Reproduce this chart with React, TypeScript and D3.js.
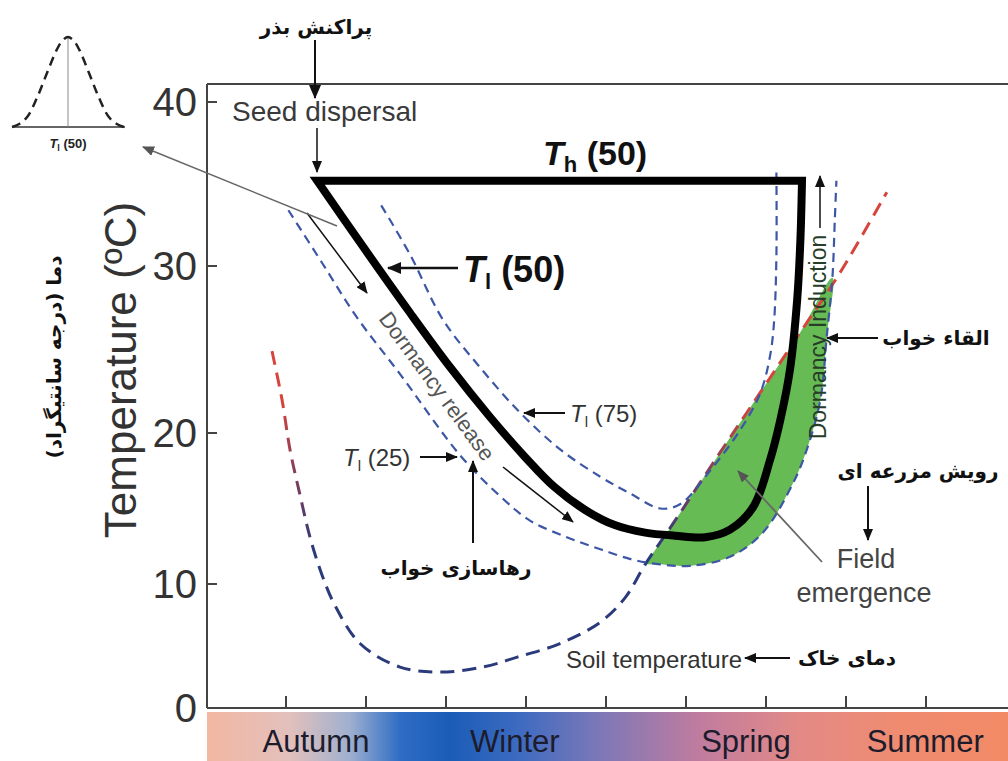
import React from 'react';
import * as d3 from 'd3';

const width = 1008;
const height = 761;

// axis ticks
const yTicks = [0, 10, 20, 30, 40];
const xTicks = [1, 2, 3, 4, 5, 6, 7, 8, 9];

// seasons along the time axis (in tick units)
const seasons = ['Autumn', 'Winter', 'Spring', 'Summer'];
const seasonAt = [1.375, 3.86, 6.75, 8.99];

// T_l(50) lower limit curve, closed by T_h(50) at the top
const tl50X = [1.39, 1.96, 2.55, 3.05, 3.55, 3.99, 4.36, 4.74, 5.11, 5.49, 5.86, 6.24, 6.55, 6.84, 7.05, 7.18, 7.3, 7.39, 7.43, 7.45];
const tl50Y = [35.2, 31.2, 27.2, 23.95, 20.96, 18.4, 16.4, 14.9, 13.9, 13.4, 13.2, 13.1, 13.6, 15.1, 18.2, 20.8, 23.8, 28.0, 31.6, 35.2];

// T_l(25)
const tl25X = [1.03, 1.45, 1.89, 2.43, 3.18, 3.68, 4.05, 4.51, 4.93, 5.34, 5.68, 6.05, 6.55, 6.96, 7.34, 7.51, 7.68, 7.76, 7.83, 7.86, 7.88];
const tl25Y = [33.4, 30.2, 26.9, 23.5, 18.5, 15.8, 14.2, 13.1, 12.3, 11.6, 11.3, 11.2, 11.8, 13.4, 16.7, 18.9, 22.0, 25.8, 29.3, 32.8, 35.2];

// T_l(75)
const tl75X = [2.19, 2.55, 2.96, 3.43, 3.93, 4.43, 4.93, 5.3, 5.68, 5.93, 6.3, 6.68, 6.93, 7.05, 7.1, 7.13, 7.13];
const tl75Y = [33.7, 30.7, 26.8, 23.9, 21.2, 18.9, 17.1, 16.0, 15.0, 15.3, 17.5, 20.2, 22.4, 24.6, 26.6, 30.6, 35.7];

// soil temperature
const soilX = [0.825, 0.95, 1.05, 1.175, 1.3, 1.45, 1.61, 1.925, 2.425, 2.925, 3.46, 3.89, 4.425, 4.925, 5.24, 5.49, 5.8, 6.425, 6.925, 7.425, 7.925, 8.51];
const soilY = [24.9, 22.0, 18.9, 15.9, 13.1, 10.6, 8.3, 5.2, 3.3, 2.9, 3.3, 4.1, 5.2, 6.9, 8.9, 11.3, 13.7, 18.7, 22.4, 26.0, 29.6, 34.5];

// field emergence window (soil temperature above T_l(25))
const emergenceFrom = 5.45;
const emergenceTo = 7.85;

// small inset distribution of T_l(50)
const insetX = [-1, -0.88, -0.73, -0.55, -0.375, -0.2, -0.1, 0, 0.1, 0.2, 0.375, 0.55, 0.73, 0.88, 1];
const insetY = [0, 0.03, 0.11, 0.33, 0.6, 0.86, 0.96, 1, 0.96, 0.86, 0.6, 0.33, 0.11, 0.03, 0];

const sans = '"Liberation Sans", Arial, Helvetica, sans-serif';
const fa = '"DejaVu Sans", sans-serif';

type Arrow = { x1: number; y1: number; x2: number; y2: number; w: number; c?: string; big?: boolean };

export default function App() {
  const x = d3.scaleLinear().domain([0, 10]).range([206, 1006]);
  // the printed axis is not evenly spaced, so map tick by tick
  const y = d3.scaleLinear().domain(yTicks).range([708, 584, 433, 266, 102]);

  const pts = (xs: number[], ys: number[]): [number, number][] => xs.map((v, i) => [x(v), y(ys[i])]);
  const line = d3.line().curve(d3.curveCatmullRom.alpha(0.5));

  const tl50 = pts(tl50X, tl50Y);
  const tl25 = pts(tl25X, tl25Y);
  const tl75 = pts(tl75X, tl75Y);
  const soil = pts(soilX, soilY);

  const greenPts = [
    ...tl25.filter((p, i) => tl25X[i] >= 5.6 && tl25X[i] <= emergenceTo),
    ...soil.filter((p, i) => soilX[i] >= emergenceFrom && soilX[i] <= emergenceTo).reverse(),
  ];

  const ix = d3.scaleLinear().domain([-1, 1]).range([12, 124]);
  const iy = d3.scaleLinear().domain([0, 1]).range([127, 37]);
  const insetLine = d3.line<number>().x((d, i) => ix(insetX[i])).y((d) => iy(d)).curve(d3.curveCatmullRom);

  const frameTop = 84;
  const x0 = x.range()[0] + 1;
  const yBottom = y(0);

  const arrows: Arrow[] = [
    { x1: 315, y1: 40, x2: 315, y2: 98, w: 2, big: true },
    { x1: 317, y1: 128, x2: 317, y2: 172, w: 1.5 },
    { x1: 458, y1: 268, x2: 388, y2: 268, w: 2.5, big: true },
    { x1: 565, y1: 413, x2: 524, y2: 413, w: 1.8 },
    { x1: 420, y1: 457, x2: 457, y2: 457, w: 1.8 },
    { x1: 307, y1: 213, x2: 367, y2: 293, w: 1.5 },
    { x1: 503, y1: 467, x2: 573, y2: 522, w: 1.5 },
    { x1: 337, y1: 226, x2: 143, y2: 147, w: 1.5, c: '#666' },
    { x1: 473, y1: 543, x2: 473, y2: 461, w: 2 },
    { x1: 878, y1: 338, x2: 827, y2: 338, w: 2 },
    { x1: 868, y1: 486, x2: 868, y2: 540, w: 2 },
    { x1: 822, y1: 562, x2: 738, y2: 471, w: 1.8, c: '#666' },
    { x1: 790, y1: 658, x2: 745, y2: 658, w: 2 },
    { x1: 820, y1: 228, x2: 820, y2: 176, w: 1.5 },
  ];

  const markerFor = (a: Arrow) => (a.c ? 'url(#headG)' : a.big ? 'url(#headB)' : 'url(#headK)');

  return (
    <svg width={width} height={height} style={{ position: 'absolute', left: 0, top: 0, background: '#fff' }}>
      <defs>
        <marker id="headK" viewBox="0 0 12 10" refX="11" refY="5" markerWidth="12" markerHeight="10" markerUnits="userSpaceOnUse" orient="auto">
          <path d="M0,0 L12,5 L0,10 Z" fill="#111" />
        </marker>
        <marker id="headB" viewBox="0 0 14 12" refX="13" refY="6" markerWidth="14" markerHeight="12" markerUnits="userSpaceOnUse" orient="auto">
          <path d="M0,0 L14,6 L0,12 Z" fill="#111" />
        </marker>
        <marker id="headG" viewBox="0 0 12 10" refX="11" refY="5" markerWidth="12" markerHeight="10" markerUnits="userSpaceOnUse" orient="auto">
          <path d="M0,0 L12,5 L0,10 Z" fill="#555" />
        </marker>
        <linearGradient id="seasonBar" gradientUnits="userSpaceOnUse" x1={207} y1={0} x2={1008} y2={0}>
          <stop offset="0" stopColor="#f3b7a2" />
          <stop offset="0.104" stopColor="#e2c0bc" />
          <stop offset="0.178" stopColor="#9fb0d0" />
          <stop offset="0.241" stopColor="#2f6dc4" />
          <stop offset="0.303" stopColor="#1a5cb8" />
          <stop offset="0.39" stopColor="#3d6bc0" />
          <stop offset="0.49" stopColor="#7d78b8" />
          <stop offset="0.615" stopColor="#c07c9f" />
          <stop offset="0.74" stopColor="#e38a86" />
          <stop offset="0.865" stopColor="#ef8b70" />
          <stop offset="1" stopColor="#f28a65" />
        </linearGradient>
        <linearGradient id="soilGrad" gradientUnits="userSpaceOnUse" x1={0} y1={y(22)} x2={0} y2={y(12)}>
          <stop offset="0" stopColor="#d6453d" />
          <stop offset="1" stopColor="#2b3a7a" />
        </linearGradient>
      </defs>

      <rect width={width} height={height} fill="#fff" />

      {/* season bar */}
      <rect x={207} y={712} width={width - 207} height={height - 712} fill="url(#seasonBar)" />
      {seasons.map((s, i) => (
        <text key={s} x={x(seasonAt[i])} y={752} textAnchor="middle" fontFamily={sans} fontSize={31} fill="#1c1c2c">
          {s}
        </text>
      ))}

      {/* field emergence */}
      <path d={line(greenPts) + 'Z'} fill="#66bb55" stroke="none" />

      {/* soil temperature */}
      <path d={line(soil) || ''} fill="none" stroke="url(#soilGrad)" strokeWidth={3} strokeDasharray="14,8" />

      {/* T_l(25), T_l(75) */}
      <path d={line(tl25) || ''} fill="none" stroke="#3d56a6" strokeWidth={2.2} strokeDasharray="9,6" />
      <path d={line(tl75) || ''} fill="none" stroke="#3d56a6" strokeWidth={2.2} strokeDasharray="9,6" />

      {/* T_l(50) and T_h(50) */}
      <path d={line(tl50) + 'Z'} fill="none" stroke="#000" strokeWidth={8} strokeLinejoin="miter" />

      {/* frame and axes */}
      <g stroke="#444" strokeWidth={2} fill="none">
        <line x1={x0} y1={frameTop} x2={width} y2={frameTop} />
        <line x1={x0} y1={frameTop} x2={x0} y2={yBottom} />
        <line x1={x0} y1={yBottom} x2={width} y2={yBottom} />
        {yTicks.map((t) => (
          <line key={t} x1={x0} y1={y(t)} x2={x0 + 10} y2={y(t)} />
        ))}
        {xTicks.map((t) => (
          <line key={t} x1={x(t)} y1={yBottom} x2={x(t)} y2={yBottom - 12} />
        ))}
      </g>
      {yTicks.map((t) => (
        <text key={t} x={197} y={y(t)} dy="0.36em" textAnchor="end" fontFamily={sans} fontSize={40} fill="#333">
          {t}
        </text>
      ))}
      <text transform="translate(136,370) rotate(-90)" textAnchor="middle" fontFamily={sans} fontSize={44} fill="#333">
        Temperature (ºC)
      </text>
      <text transform="translate(61,357) rotate(-90)" textAnchor="middle" fontFamily={fa} fontWeight="bold" fontSize={20} fill="#111" direction="rtl">
        دما (درجه سانتیگراد)
      </text>

      {/* inset */}
      <line x1={12} y1={127} x2={125} y2={127} stroke="#666" strokeWidth={2} />
      <line x1={ix(0)} y1={iy(1)} x2={ix(0)} y2={127} stroke="#888" strokeWidth={1} />
      <path d={insetLine(insetY) || ''} fill="none" stroke="#222" strokeWidth={2.5} strokeDasharray="9,6" />
      <text x={ix(0)} y={148} textAnchor="middle" fontFamily={sans} fontWeight="bold" fontSize={13} fill="#222">
        <tspan fontStyle="italic">T</tspan>
        <tspan fontSize={9} dy={3}>l</tspan>
        <tspan dy={-3}> (50)</tspan>
      </text>

      {/* labels */}
      <text x={232} y={121} fontFamily={sans} fontSize={28} fill="#3a3a3a">Seed dispersal</text>
      <text x={543} y={165} fontFamily={sans} fontWeight="bold" fontSize={34} fill="#111">
        <tspan fontStyle="italic">T</tspan>
        <tspan fontSize={22} dy={7}>h</tspan>
        <tspan dy={-7}> (50)</tspan>
      </text>
      <text x={463} y={282} fontFamily={sans} fontWeight="bold" fontSize={36} fill="#111">
        <tspan fontStyle="italic">T</tspan>
        <tspan fontSize={22} dy={7}>l</tspan>
        <tspan dy={-7}> (50)</tspan>
      </text>
      <text x={570} y={422} fontFamily={sans} fontSize={24} fill="#333">
        <tspan fontStyle="italic">T</tspan>
        <tspan fontSize={15} dy={5}>l</tspan>
        <tspan dy={-5}> (75)</tspan>
      </text>
      <text x={343} y={466} fontFamily={sans} fontSize={24} fill="#333">
        <tspan fontStyle="italic">T</tspan>
        <tspan fontSize={15} dy={5}>l</tspan>
        <tspan dy={-5}> (25)</tspan>
      </text>
      <text transform="translate(437,386) rotate(53.7)" textAnchor="middle" dy="0.35em" fontFamily={sans} fontSize={22} fill="#555">
        Dormancy release
      </text>
      <text transform="translate(818,337) rotate(-90)" textAnchor="middle" dy="0.35em" fontFamily={sans} fontSize={23} fill="#263d28">
        Dormancy Induction
      </text>
      <text x={866} y={568} textAnchor="middle" fontFamily={sans} fontSize={27} fill="#444">Field</text>
      <text x={864} y={602} textAnchor="middle" fontFamily={sans} fontSize={27} fill="#444">emergence</text>
      <text x={742} y={668} textAnchor="end" fontFamily={sans} fontSize={24} fill="#333">Soil temperature</text>

      {/* persian labels */}
      <g fontFamily={fa} fontWeight="bold" fontSize={20} fill="#111" textAnchor="middle" direction="rtl">
        <text x={316} y={34}>پراکنش بذر</text>
        <text x={456} y={575}>رهاسازی خواب</text>
        <text x={936} y={345}>القاء خواب</text>
        <text x={918} y={478}>رویش مزرعه ای</text>
        <text x={847} y={665}>دمای خاک</text>
      </g>

      {/* arrows */}
      {arrows.map((a, i) => (
        <line key={i} x1={a.x1} y1={a.y1} x2={a.x2} y2={a.y2} stroke={a.c || '#111'} strokeWidth={a.w} markerEnd={markerFor(a)} />
      ))}
    </svg>
  );
}
